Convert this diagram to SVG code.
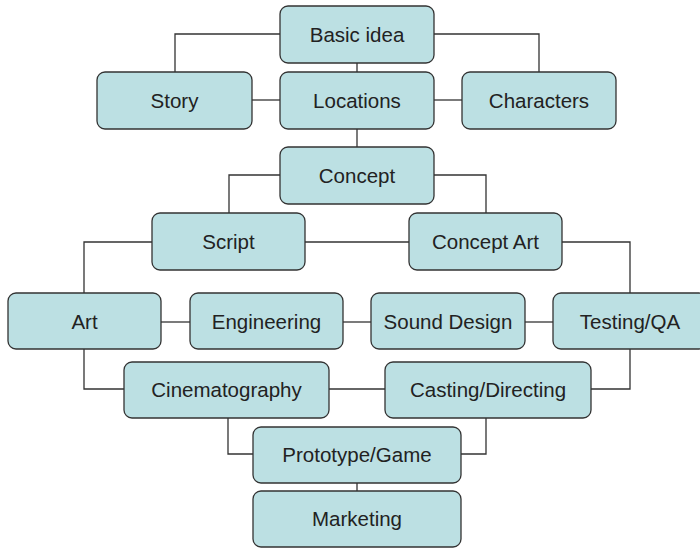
<svg xmlns="http://www.w3.org/2000/svg" width="700" height="548" viewBox="0 0 700 548">
<style>
.n rect{fill:#bce0e3;stroke:#333;stroke-width:1.3}
.n text{font-family:"Liberation Sans",Arial,sans-serif;font-size:20.5px;fill:#222;text-anchor:middle}
#connectors path{fill:none;stroke:#333;stroke-width:1.3}
</style>
<rect width="700" height="548" fill="#fff"/>
<g id="connectors">
<path d="M280 34H175V72"/>
<path d="M434 34H539V72"/>
<path d="M357 63V72"/>
<path d="M252 100H280"/>
<path d="M434 100H462"/>
<path d="M357 129V148"/>
<path d="M280 175H229V213"/>
<path d="M434 175H486V213"/>
<path d="M305 242H409"/>
<path d="M152 242H84V293"/>
<path d="M562 242H630V293"/>
<path d="M161 322H190"/>
<path d="M343 322H371"/>
<path d="M525 322H553"/>
<path d="M84 349V389H124"/>
<path d="M630 349V389H591"/>
<path d="M329 389H385"/>
<path d="M228 418V454H253"/>
<path d="M486 418V454H461"/>
<path d="M357 483V491"/>
</g>
<g id="basic-idea" class="n"><rect x="280" y="6" width="154" height="57" rx="8"/><text x="357" y="42">Basic idea</text></g>
<g id="story" class="n"><rect x="97" y="72" width="155" height="57" rx="8"/><text x="174.5" y="108">Story</text></g>
<g id="locations" class="n"><rect x="280" y="72" width="154" height="57" rx="8"/><text x="357" y="108">Locations</text></g>
<g id="characters" class="n"><rect x="462" y="72" width="154" height="57" rx="8"/><text x="539" y="108">Characters</text></g>
<g id="concept" class="n"><rect x="280" y="147" width="154" height="57" rx="8"/><text x="357" y="183">Concept</text></g>
<g id="script" class="n"><rect x="152" y="213" width="153" height="57" rx="8"/><text x="228.5" y="249">Script</text></g>
<g id="concept-art" class="n"><rect x="409" y="213" width="153" height="57" rx="8"/><text x="485.5" y="249">Concept Art</text></g>
<g id="art" class="n"><rect x="8" y="293" width="153" height="56" rx="8"/><text x="84.5" y="329">Art</text></g>
<g id="engineering" class="n"><rect x="190" y="293" width="153" height="56" rx="8"/><text x="266.5" y="329">Engineering</text></g>
<g id="sound-design" class="n"><rect x="371" y="293" width="154" height="56" rx="8"/><text x="448" y="329">Sound Design</text></g>
<g id="testing-qa" class="n"><rect x="553" y="293" width="154" height="56" rx="8"/><text x="630" y="329">Testing/QA</text></g>
<g id="cinematography" class="n"><rect x="124" y="362" width="205" height="56" rx="8"/><text x="226.5" y="397">Cinematography</text></g>
<g id="casting-directing" class="n"><rect x="385" y="362" width="206" height="56" rx="8"/><text x="488" y="397">Casting/Directing</text></g>
<g id="prototype-game" class="n"><rect x="253" y="427" width="208" height="56" rx="8"/><text x="357" y="462">Prototype/Game</text></g>
<g id="marketing" class="n"><rect x="253" y="491" width="208" height="56" rx="8"/><text x="357" y="526">Marketing</text></g>
</svg>
